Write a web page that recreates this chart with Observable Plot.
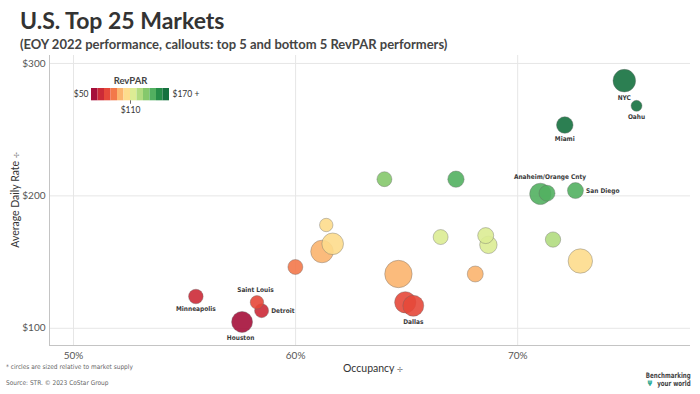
<!DOCTYPE html>
<html>
<head>
<meta charset="utf-8">
<script src="https://cdn.jsdelivr.net/npm/d3@7"></script>
<script src="https://cdn.jsdelivr.net/npm/@observablehq/plot@0.6"></script>
<style>
  html, body { margin: 0; padding: 0; background: #fff; }
  #wrap { position: relative; width: 700px; height: 394px; overflow: hidden; font-family: Lato, "Open Sans", sans-serif; }
  .abs { position: absolute; white-space: nowrap; line-height: 1; }
  #title { left: 20px; top: 8.5px; font-size: 23px; font-weight: 700; color: #333; }
  #subtitle { left: 20px; top: 37.5px; font-size: 13px; font-weight: 700; color: #444; }
  #chart { position: absolute; left: 0; top: 52px; }
  #legend { position: absolute; left: 70px; top: 71px; }
  .narrow { font-family: "Liberation Sans Narrow", "DejaVu Sans Condensed", "Liberation Sans", sans-serif; }
  #ytitle { left: 15px; top: 200px; font-size: 10.5px; color: #333; transform: translate(-50%, -50%) rotate(-90deg); }
  #xtitle { left: 373px; top: 368px; font-size: 10.5px; color: #333; transform: translate(-50%, -50%); }
  .pin { font-size: 7px; color: #888; }
  #note { left: 6px; top: 364px; font-size: 6.5px; color: #666; }
  #source { left: 6px; top: 380px; font-size: 6.5px; color: #666; }
  #logo { right: 9px; top: 372px; font-size: 7.5px; font-weight: 700; color: #444; text-align: right; transform: scaleX(0.82); transform-origin: right top; line-height: 1.05; }
  #logo .pinmark { color: #1aa58f; margin-right: 6px; }
</style>
</head>
<body>
<div id="wrap">
  <div id="title" class="abs">U.S. Top 25 Markets</div>
  <div id="subtitle" class="abs">(EOY 2022 performance, callouts: top 5 and bottom 5 RevPAR performers)</div>
  <div id="chart"></div>
  <div id="legend"></div>
  <div id="ytitle" class="abs">Average Daily Rate <span class="pin">✢</span></div>
  <div id="xtitle" class="abs">Occupancy <span class="pin">✢</span></div>
  <div id="note" class="abs narrow">* circles are sized relative to market supply</div>
  <div id="source" class="abs narrow">Source: STR. © 2023 CoStar Group</div>
  <div id="logo" class="abs narrow">Benchmarking<br><span class="pinmark">Ψ</span>your world</div>
</div>
<script>
// ---- data ----
const markets   = ["Atlanta","Orlando","New York","Washington DC","Chicago","Los Angeles","Philadelphia","Dallas","Houston","Nashville","Miami","Boston","Anaheim","San Diego","Phoenix","Norfolk","Tampa","New Orleans","Seattle","Denver","Minneapolis","Detroit","San Francisco","Saint Louis","Oahu"];
const occupancy = [64.63, 72.82, 74.80, 61.19, 61.67, 71.02, 64.94, 65.30, 57.59, 68.68, 72.12, 67.22, 71.32, 72.60, 68.56, 68.09, 71.59, 64.00, 59.99, 66.53, 55.51, 58.47, 61.38, 58.26, 75.35];
const adr       = [141.0, 150.8, 287.0, 158.0, 163.8, 201.5, 119.6, 117.0, 104.8, 163.0, 253.5, 212.6, 202.0, 204.0, 170.0, 141.0, 167.0, 212.6, 146.3, 168.9, 124.0, 113.3, 178.0, 119.6, 268.0];
const revpar    = [91, 109, 215, 97, 101, 143, 78, 76, 59, 112, 183, 143, 144, 148, 117, 96, 120, 136, 88, 112, 69, 66, 109, 70, 202];
const supply    = [188, 149, 128, 128, 117, 114, 114, 110, 110, 76, 69, 67, 64, 64, 64, 64, 59, 56, 56, 56, 53, 49, 45, 45, 30];

const calloutMarkets = ["New York","Oahu","Miami","Anaheim","San Diego","Minneapolis","Saint Louis","Detroit","Houston","Dallas"];
const calloutText    = ["NYC","Oahu","Miami","Anaheim/Orange Cnty","San Diego","Minneapolis","Saint Louis","Detroit","Houston","Dallas"];

const xTicks = [50, 60, 70];
const yTicks = [100, 200, 300];
const legendSteps = [50, 60, 70, 80, 90, 100, 110, 120, 130, 140, 150, 160];
const legendLabels = ["$50", "$110", "$170 +"];
const colorThresholds = [60, 70, 80, 90, 100, 110, 120, 130, 140, 150, 160];
const palette = ["#a50f3a","#cc2a37","#e6483a","#f3784a","#fbb46e","#fddc8c","#dcec94","#b1db80","#85c86c","#52b060","#268d48","#15713f"];

// ---- build ----
const rows = markets.map((m, i) => ({market: m, occ: occupancy[i], adr: adr[i], revpar: revpar[i], supply: supply[i]}));
const xDomain = [48.92, 77.78];
const yDomain = [87, 306];
const colorScale = {type: "threshold", domain: colorThresholds, range: palette};
const labelFont = "'Liberation Sans Narrow', 'DejaVu Sans Condensed', 'Liberation Sans', sans-serif";

// label placement (style, not data)
const place = {
  "NYC": {side: "below"}, "Oahu": {side: "below"}, "Miami": {side: "below"},
  "Minneapolis": {side: "below"}, "Houston": {side: "below", dx: -1.5}, "Dallas": {side: "below"},
  "Anaheim/Orange Cnty": {side: "above", dx: 3, gap: 8}, "Saint Louis": {side: "above", dx: -1.5},
  "San Diego": {side: "right"}, "Detroit": {side: "right"}
};

const labelMarks = calloutMarkets.map((m, i) => {
  const row = rows.find(r => r.market === m);
  const txt = calloutText[i];
  const p = place[txt];
  const rad = Math.sqrt(row.supply); // r scale: sqrt, domain [0,100] -> [0,10]
  const opts = {x: "occ", y: "adr", text: () => txt, fontSize: 6.5, fontWeight: "bold", fontFamily: labelFont, fill: "#3a3a3a"};
  if (p.side === "below") Object.assign(opts, {dy: rad + 5.5, dx: p.dx || 0});
  else if (p.side === "above") Object.assign(opts, {dy: -(rad + (p.gap || 5.3)), dx: p.dx || 0});
  else Object.assign(opts, {dx: rad + 2.6, textAnchor: "start"});
  return Plot.text([row], opts);
});

const chart = Plot.plot({
  width: 700, height: 322,
  marginLeft: 49, marginRight: 10, marginTop: 3, marginBottom: 29,
  style: {fontFamily: "Lato, 'Open Sans', sans-serif", fontSize: "10px", color: "#555", background: "transparent"},
  x: {domain: xDomain},
  y: {domain: yDomain},
  r: {type: "sqrt", domain: [0, 100], range: [0, 10]},
  color: colorScale,
  marks: [
    Plot.gridX(xTicks, {stroke: "#e6e6e6", strokeOpacity: 1}),
    Plot.gridY(yTicks, {stroke: "#e6e6e6", strokeOpacity: 1}),
    Plot.ruleX([xDomain[0]], {stroke: "#c4c4c4"}),
    Plot.ruleY([yDomain[0]], {stroke: "#c4c4c4"}),
    Plot.axisX(xTicks, {tickSize: 0, tickPadding: 6, tickFormat: d => d + "%", label: null, fill: "#555"}),
    Plot.axisY(yTicks, {tickSize: 0, tickPadding: 4, tickFormat: d => "$" + d, label: null, fill: "#555"}),
    Plot.dot(rows, {x: "occ", y: "adr", r: "supply", fill: "revpar", fillOpacity: 0.9, stroke: "#666", strokeOpacity: 0.55, strokeWidth: 0.7}),
    ...labelMarks
  ]
});
document.getElementById("chart").appendChild(chart);

// legend (stepped RevPAR scale)
const legend = Plot.plot({
  width: 140, height: 45,
  marginLeft: 21, marginRight: 41, marginTop: 17, marginBottom: 12,
  style: {fontFamily: "Lato, 'Open Sans', sans-serif", color: "#444", background: "transparent", overflow: "visible"},
  x: {domain: [50, 170], axis: null},
  y: {domain: [-0.3, 1], axis: null},
  color: colorScale,
  marks: [
    Plot.rect(legendSteps, {x1: d => d, x2: d => d + 10, y1: 0, y2: 1, fill: d => d + 5}),
    Plot.ruleX([110], {y1: -0.28, y2: 0, stroke: "#444", strokeWidth: 0.8}),
    Plot.text(["RevPAR"], {x: 110, y: 1, dy: -8, text: d => d, fontSize: 9.5, fontWeight: "bold", fill: "#444"}),
    Plot.text([legendLabels[0]], {x: 50, y: 0.5, dx: -3, textAnchor: "end", text: d => d, fontSize: 8.5, fill: "#333"}),
    Plot.text([legendLabels[2]], {x: 170, y: 0.5, dx: 3, textAnchor: "start", text: d => d, fontSize: 8.5, fill: "#333"}),
    Plot.text([legendLabels[1]], {x: 110, y: -0.3, dy: 6, text: d => d, fontSize: 8.5, fill: "#333"})
  ]
});
document.getElementById("legend").appendChild(legend);
</script>
</body>
</html>
